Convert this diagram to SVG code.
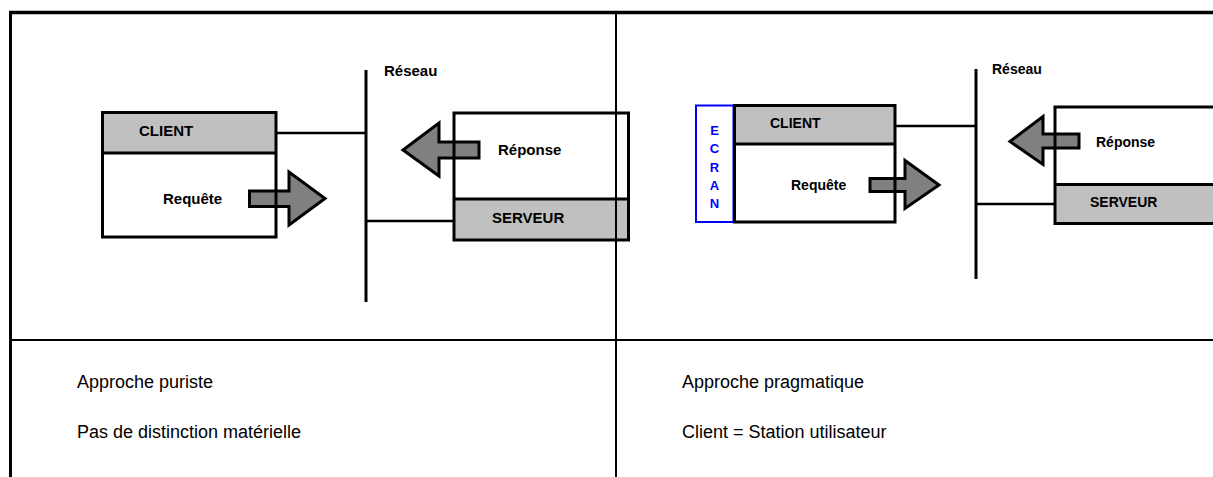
<svg xmlns="http://www.w3.org/2000/svg" width="1213" height="477" viewBox="0 0 1213 477">
  <style>
    .box { fill: #ffffff; stroke: none; }
    .head { fill: #c0c0c0; stroke: none; }
    .edge { fill: none; stroke: #000000; stroke-width: 3; }
    .wire { fill: none; stroke: #000000; stroke-width: 2.5; }
    .bus { fill: none; stroke: #000000; stroke-width: 3; }
    .arrow { fill: #808080; stroke: #000000; stroke-width: 3; stroke-linejoin: miter; }
    .lbl { font-family: "Liberation Sans", Arial, sans-serif; font-weight: bold; fill: #000000; }
    .l15 { font-size: 15px; }
    .l14 { font-size: 14px; }
    .scr { font-family: "Liberation Sans", Arial, sans-serif; font-weight: bold; font-size: 13px; fill: #0000ff; text-anchor: middle; }
    .cap { font-family: "Liberation Sans", Arial, sans-serif; font-size: 18px; fill: #000000; }
    .frame { stroke: #000000; fill: none; }
  </style>

  <rect x="0" y="0" width="1213" height="477" fill="#ffffff"/>

  <!-- left panel: purist approach -->
  <g id="connectors-left">
    <line class="bus" x1="366" y1="70" x2="366" y2="302"/>
    <line class="wire" x1="276" y1="133" x2="366" y2="133"/>
    <line class="wire" x1="366" y1="221" x2="454" y2="221"/>
  </g>

  <g id="client-left">
    <rect class="box" x="102.5" y="112.5" width="173.5" height="124.5"/>
    <rect class="head" x="102.5" y="112.5" width="173.5" height="40.5"/>
    <text class="lbl l15" x="139" y="136">CLIENT</text>
    <text class="lbl l15" x="163" y="204">Requête</text>
  </g>

  <g id="server-left">
    <rect class="box" x="454" y="113" width="174.5" height="127"/>
    <rect class="head" x="454" y="199" width="174.5" height="41"/>
    <text class="lbl l15" x="498" y="155">Réponse</text>
    <text class="lbl l15" x="492" y="223">SERVEUR</text>
  </g>

  <g id="requete-left">
    <polygon class="arrow" points="249.5,191 289,191 289,172 325,198.5 289,225 289,206.5 249.5,206.5"/>
  </g>
  <g id="reponse-left">
    <polygon class="arrow" points="479,142 439,142 439,123 403,150 439,176 439,158 479,158"/>
  </g>

  <g id="outlines-left">
    <rect class="edge" x="102.5" y="112.5" width="173.5" height="124.5"/>
    <line class="edge" x1="102.5" y1="153" x2="276" y2="153"/>
    <rect class="edge" x="454" y="113" width="174.5" height="127"/>
    <line class="edge" x1="454" y1="199" x2="628.5" y2="199"/>
  </g>

  <g id="reseau-left">
    <text class="lbl l15" x="384" y="76">Réseau</text>
  </g>

  <!-- right panel: pragmatic approach -->
  <g id="connectors-right">
    <line class="bus" x1="976" y1="69" x2="976" y2="279"/>
    <line class="wire" x1="895" y1="126" x2="976" y2="126"/>
    <line class="wire" x1="976" y1="204" x2="1055" y2="204"/>
  </g>

  <g id="ecran">
    <rect x="696" y="105.5" width="37.5" height="116.5" fill="#ffffff" stroke="#0000ff" stroke-width="2"/>
    <text class="scr" x="714.5" y="134.5">E</text>
    <text class="scr" x="714.5" y="153">C</text>
    <text class="scr" x="714.5" y="171.5">R</text>
    <text class="scr" x="714.5" y="189.5">A</text>
    <text class="scr" x="714.5" y="208">N</text>
  </g>

  <g id="client-right">
    <rect class="box" x="734.5" y="105.5" width="160.5" height="116.5"/>
    <rect class="head" x="734.5" y="105.5" width="160.5" height="38.5"/>
    <text class="lbl l14" x="770" y="128">CLIENT</text>
    <text class="lbl l14" x="791" y="190">Requête</text>
  </g>

  <g id="server-right">
    <rect class="box" x="1055" y="107" width="170" height="116.5"/>
    <rect class="head" x="1055" y="184.5" width="170" height="39"/>
    <text class="lbl l14" x="1096" y="147">Réponse</text>
    <text class="lbl l14" x="1090" y="207">SERVEUR</text>
  </g>

  <g id="requete-right">
    <polygon class="arrow" points="870,178.5 905,178.5 905,160.5 939,185 905,208.5 905,191.5 870,191.5"/>
  </g>
  <g id="reponse-right">
    <polygon class="arrow" points="1079,134 1043,134 1043,116.5 1010,141.5 1043,164.5 1043,148 1079,148"/>
  </g>

  <g id="outlines-right">
    <rect class="edge" x="734.5" y="105.5" width="160.5" height="116.5"/>
    <line class="edge" x1="734.5" y1="144" x2="895" y2="144"/>
    <rect class="edge" x="1055" y="107" width="170" height="116.5"/>
    <line class="edge" x1="1055" y1="184.5" x2="1225" y2="184.5"/>
  </g>

  <g id="reseau-right">
    <text class="lbl l14" x="992" y="74">Réseau</text>
  </g>

  <!-- table frame -->
  <g id="frame">
    <line class="frame" stroke-width="3.5" x1="9" y1="12.5" x2="1213" y2="12.5"/>
    <line class="frame" stroke-width="3" x1="10.5" y1="11" x2="10.5" y2="477"/>
    <line class="frame" stroke-width="2" x1="616" y1="12" x2="616" y2="477"/>
    <line class="frame" stroke-width="2" x1="10" y1="340" x2="1213" y2="340"/>
  </g>

  <!-- captions -->
  <g id="captions">
    <text class="cap" x="77" y="388">Approche puriste</text>
    <text class="cap" x="77" y="438">Pas de distinction matérielle</text>
    <text class="cap" x="682" y="388">Approche pragmatique</text>
    <text class="cap" x="682" y="438">Client = Station utilisateur</text>
  </g>
</svg>
